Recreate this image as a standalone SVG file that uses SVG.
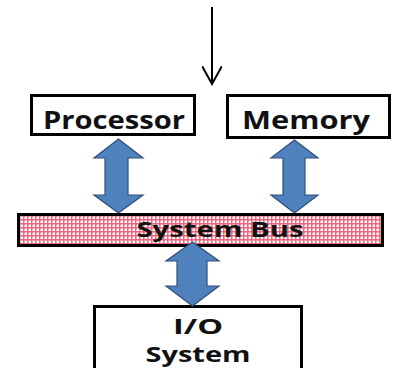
<svg xmlns="http://www.w3.org/2000/svg" width="394" height="368" viewBox="0 0 394 368">
  <defs>
    <pattern id="dots" width="4" height="4" patternUnits="userSpaceOnUse">
      <rect width="4" height="4" fill="#ee5a74"/>
      <rect x="0.5" y="0.5" width="2.6" height="2.6" fill="#ffffff"/>
    </pattern>
    <!-- open chevron head, drawn along +x so orient="auto" turns it with the line -->
    <marker id="open-head" viewBox="0 0 20 20" refX="18" refY="10" markerWidth="20" markerHeight="20" markerUnits="userSpaceOnUse" orient="auto">
      <polyline points="0,0 18,10 0,20" fill="none" stroke="#000" stroke-width="2"/>
    </marker>
  </defs>
  <style>
    .box { fill: #fff; stroke: #000; stroke-width: 3; }
    .bus { fill: url(#dots); stroke: #000; stroke-width: 3; }
    .label { font-family: "Open Sans", "Liberation Sans", sans-serif; font-weight: bold; fill: #111; text-anchor: middle; }
    .dbl { fill: #4f81bd; stroke: #2f4f78; stroke-width: 1.2; stroke-linejoin: miter; }
    .feed { stroke: #000; stroke-width: 2; fill: none; }
  </style>

  <rect width="394" height="368" fill="#fff"/>

  <g id="processor">
    <rect class="box" x="31.5" y="95.5" width="163" height="39"/>
    <text class="label" x="114" y="129" font-size="25" textLength="142" lengthAdjust="spacingAndGlyphs">Processor</text>
  </g>

  <g id="memory">
    <rect class="box" x="227.5" y="95.5" width="162" height="42"/>
    <text class="label" x="306" y="129" font-size="25" textLength="128" lengthAdjust="spacingAndGlyphs">Memory</text>
  </g>

  <g id="system-bus">
    <rect class="bus" x="18.5" y="214.5" width="364" height="31"/>
    <text class="label" x="220" y="237" font-size="21" textLength="167" lengthAdjust="spacingAndGlyphs">System Bus</text>
  </g>

  <g id="io-system">
    <rect class="box" x="94.5" y="306.5" width="207" height="70"/>
    <text class="label" x="198" y="334" font-size="21" textLength="50" lengthAdjust="spacingAndGlyphs">I/O</text>
    <text class="label" x="198" y="362" font-size="21" textLength="105" lengthAdjust="spacingAndGlyphs">System</text>
  </g>

  <g id="connectors">
    <line class="feed" x1="212" y1="7" x2="212" y2="84" marker-end="url(#open-head)"/>
    <!-- processor <-> bus -->
    <polygon class="dbl" points="118.5,139 143,158 128,158 128,195 143,195 118.5,213 94,195 105,195 105,158 94,158"/>
    <!-- memory <-> bus -->
    <polygon class="dbl" points="294.5,140 318,158 305,158 305,195 318,195 294.5,213 271,195 283,195 283,158 271,158"/>
    <!-- bus <-> I/O -->
    <polygon class="dbl" points="192.5,242 219,261 207,261 207,286 219,286 192.5,306 166,286 177,286 177,261 166,261"/>
  </g>
</svg>
